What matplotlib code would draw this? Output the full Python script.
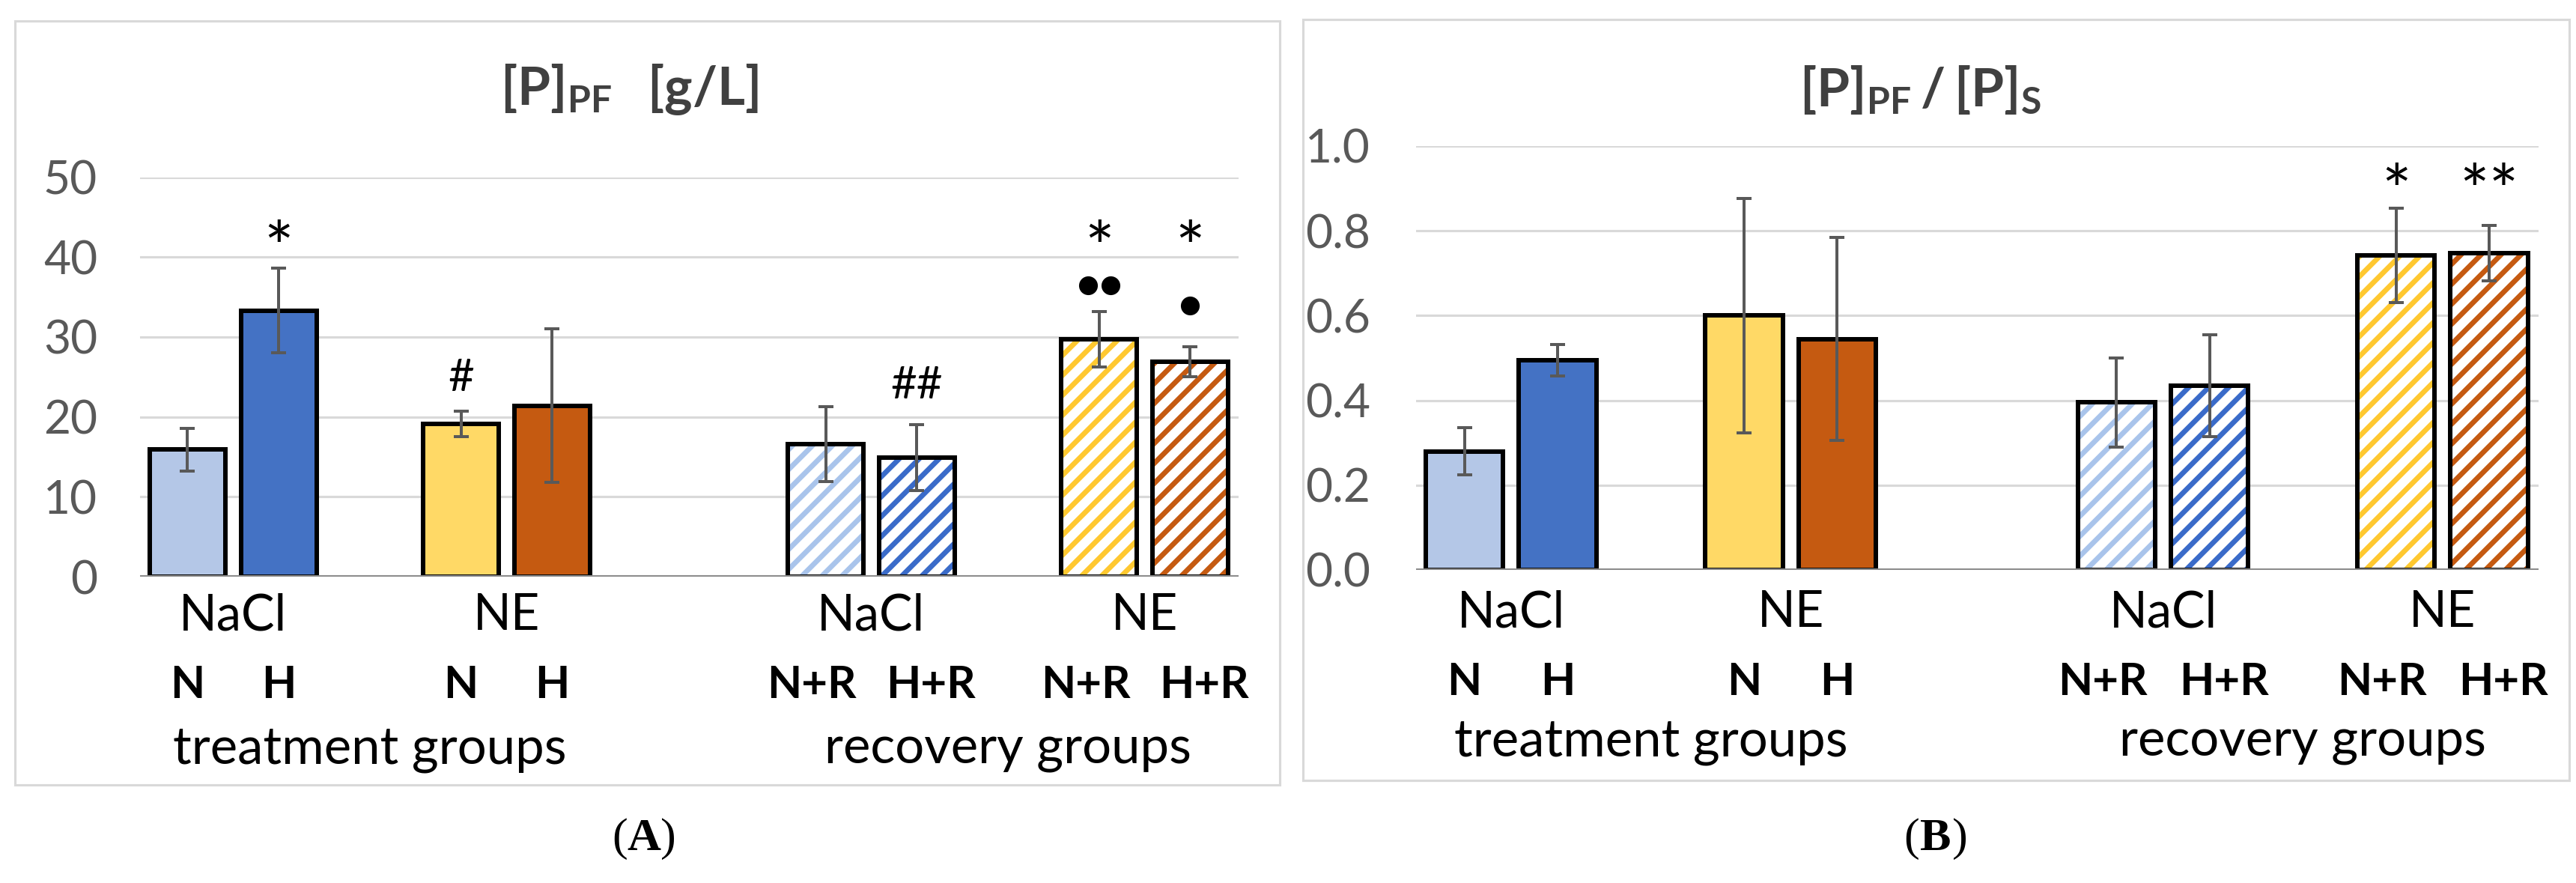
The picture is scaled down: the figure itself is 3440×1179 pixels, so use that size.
import numpy as np
import matplotlib
matplotlib.use("Agg")
import matplotlib.pyplot as plt
from matplotlib.patches import Rectangle
from matplotlib.transforms import blended_transform_factory, ScaledTranslation

plt.rcParams["font.family"] = ["Lato", "DejaVu Sans"]
plt.rcParams["mathtext.fontset"] = "custom"
plt.rcParams["mathtext.rm"] = "Lato"
plt.rcParams["mathtext.bf"] = "Lato:bold"
plt.rcParams["hatch.linewidth"] = 3.1

# ---- data ----
bar_labels = ["N", "H", "N", "H", "N+R", "H+R", "N+R", "H+R"]
pair_labels = ["NaCl", "NE", "NaCl", "NE"]
section_labels = ["treatment groups", "recovery groups"]

pf_mean = [15.9, 33.3, 19.1, 21.4, 16.6, 14.9, 29.7, 26.9]
pf_err = [2.7, 5.3, 1.6, 9.6, 4.7, 4.1, 3.5, 1.9]
ratio_mean = [0.28, 0.495, 0.60, 0.545, 0.395, 0.435, 0.742, 0.747]
ratio_err = [0.055, 0.037, 0.277, 0.24, 0.105, 0.12, 0.112, 0.065]

# significance marks: (bar index, text, height of the mark centre)
pf_marks = [(1, "*", 43.0), (2, "#", 25.2), (5, "##", 24.3), (6, "*", 43.0), (7, "*", 43.0)]
pf_dots = [(6, 2, 36.5), (7, 1, 33.9)]
ratio_marks = [(6, "*", 0.93), (7, "**", 0.93)]

# ---- style ----
fill_colors = ["#B4C7E7", "#4472C4", "#FFD966", "#C55A11"]
hatch_colors = ["#A9C4EB", "#3A6BC9", "#FFC830", "#C55A11"]
positions = np.array([0, 1, 3, 4, 7, 8, 10, 11])
label_shift = [0, 0, 0, 0, -0.15, 0.15, -0.15, 0.15]
pair_centers = [0.5, 3.5, 7.5, 10.5]
section_centers = [2.0, 9.0]

W, H = 3440, 1179
DPI = 160
fig = plt.figure(figsize=(W / DPI, H / DPI), dpi=DPI)


def fx(px):
    return px / W


def fy(py):
    return 1 - py / H


def draw_panel(ax, means, errs, ylim, yticks, fmt, tick_pad):
    for i in range(len(means)):
        c = i % 4
        if i < 4:
            ax.bar(positions[i], means[i], width=0.83, color=fill_colors[c],
                   edgecolor="black", linewidth=2.7, zorder=2)
        else:
            ax.bar(positions[i], means[i], width=0.83, color="white",
                   edgecolor=hatch_colors[c], hatch="//", linewidth=0, zorder=2)
            ax.bar(positions[i], means[i], width=0.83, facecolor="none",
                   edgecolor="black", linewidth=2.7, zorder=2.5)
    ax.errorbar(positions, means, yerr=errs, fmt="none", ecolor="#595959",
                elinewidth=1.8, capsize=4.5, capthick=1.8, zorder=4)
    ax.axhline(0, color="#8C8C8C", lw=2.3, zorder=5)
    ax.set_xlim(-0.52, 11.53)
    ax.set_ylim(*ylim)
    ax.set_yticks(yticks)
    ax.set_yticklabels([fmt.format(t) for t in yticks])
    ax.set_xticks([])
    ax.tick_params(axis="y", length=0, labelsize=28, labelcolor="#595959", pad=tick_pad)
    ax.yaxis.grid(True, color="#D9D9D9", lw=1.4)
    ax.set_axisbelow(True)
    for s in ax.spines.values():
        s.set_visible(False)


def mark(ax, x, y, t):
    # place text so that the glyph ink is centred on y
    if "*" in t:
        size, lift = 42, 0.56
    else:
        size, lift = 27, 0.35
    off = ScaledTranslation(0, -lift * size / 72, fig.dpi_scale_trans)
    ax.text(x, y, t, ha="center", va="baseline", fontsize=size,
            transform=ax.transData + off, zorder=6)


def category_labels(ax, y1, y2, y3):
    tr = blended_transform_factory(ax.transData, fig.transFigure)
    for x, t in zip(pair_centers, pair_labels):
        ax.text(x, fy(y1), t, transform=tr, ha="center", va="center", fontsize=30)
    for x, dx, t in zip(positions, label_shift, bar_labels):
        ax.text(x + dx, fy(y2), t, transform=tr, ha="center", va="center",
                fontsize=27, fontweight="bold")
    for x, t in zip(section_centers, section_labels):
        ax.text(x, fy(y3), t, transform=tr, ha="center", va="center", fontsize=31)


# ===== Panel A =====
axA = fig.add_axes([fx(187), fy(770), fx(1654 - 187), (770 - 236.5) / H])
draw_panel(axA, pf_mean, pf_err, (0, 50), [0, 10, 20, 30, 40, 50], "{:.0f}", 25.6)
for i, t, y in pf_marks:
    mark(axA, positions[i], y, t)
for i, k, y in pf_dots:
    xs = positions[i] + (np.arange(k) - (k - 1) / 2) * 0.25
    axA.plot(xs, [y] * k, "o", color="black", ms=10.3, zorder=6, clip_on=False)
category_labels(axA, 822, 915, 1000)

# ===== Panel B =====
axB = fig.add_axes([fx(1891), fy(761), fx(3390 - 1891), (761 - 195) / H])
draw_panel(axB, ratio_mean, ratio_err, (0, 1.0), [0, 0.2, 0.4, 0.6, 0.8, 1.0], "{:.1f}", 27.5)
for i, t, y in ratio_marks:
    mark(axB, positions[i], y, t)
category_labels(axB, 818, 911, 991)

# ---- titles ----
fig.text(fx(840), fy(120), r"$\mathbf{[P]_{PF}\ \ [g/L]}$", ha="center", va="center",
         fontsize=32, color="#404040")
fig.text(fx(2565), fy(120), r"$\mathbf{[P]_{PF}\,/\,[P]_{S}}$", ha="center", va="center",
         fontsize=32, color="#404040")

# ---- panel frames ----
for x0, y0, x1, y1 in [(20, 28, 1709, 1048), (1740, 26, 3431, 1042)]:
    fig.patches.append(Rectangle((fx(x0), fy(y1)), fx(x1 - x0), (y1 - y0) / H,
                                 transform=fig.transFigure, fill=False,
                                 edgecolor="#D9D9D9", lw=1.4))

# ---- panel letters ----
for xc, letter in [(860, "A"), (2585, "B")]:
    fig.text(fx(xc), fy(1120), letter, ha="center", va="center", fontsize=28,
             fontweight="bold", family="Liberation Serif")
    fig.text(fx(xc - 22), fy(1120), "(", ha="right", va="center", fontsize=28,
             family="Liberation Serif")
    fig.text(fx(xc + 22), fy(1120), ")", ha="left", va="center", fontsize=28,
             family="Liberation Serif")

fig.savefig("out.png", dpi=DPI)
